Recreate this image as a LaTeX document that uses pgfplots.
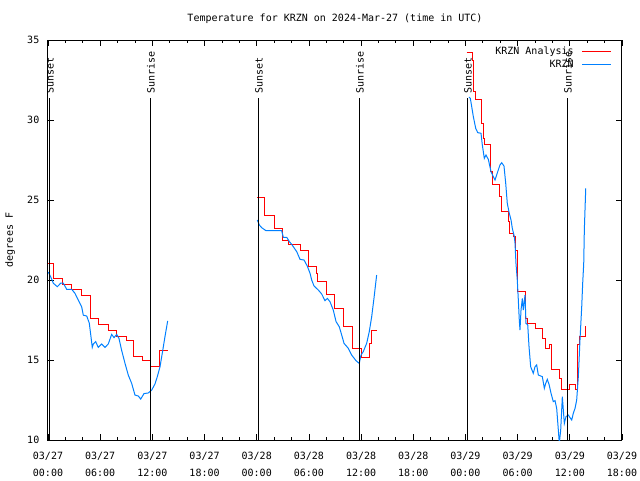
\documentclass[border=0pt]{standalone}
\usepackage{pgfplots}
\pgfplotsset{compat=1.18}
\usepackage{fontspec}
\setmainfont{DejaVu Sans Mono}
\definecolor{obsblue}{RGB}{0,128,255}
\definecolor{anred}{RGB}{255,0,0}
\begin{document}
\begin{tikzpicture}
\path[use as bounding box] (-36pt,-30pt) rectangle (444pt,330pt);
\begin{axis}[
  scale only axis, width=430.5pt, height=300pt,
  xmin=0, xmax=66, ymin=10, ymax=35,
  xtick={0,6,...,66}, minor x tick num=2,
  xticklabels={{03/27\\00:00},{03/27\\06:00},{03/27\\12:00},{03/27\\18:00},{03/28\\00:00},{03/28\\06:00},{03/28\\12:00},{03/28\\18:00},{03/29\\00:00},{03/29\\06:00},{03/29\\12:00},{03/29\\18:00}},
  ytick={10,15,...,35}, yticklabels={10,15,20,25,30,35},
  tick align=inside, major tick length=4.5pt, minor tick length=2.25pt,
  tick style={black, line width=0.6pt},
  axis line style={line width=0.75pt},
  font=\fontsize{7.5}{12.75}\selectfont,
  xticklabel style={align=center, font=\fontsize{7.5}{12.75}\selectfont, yshift=-5.5pt},
  yticklabel style={font=\fontsize{7.5}{9}\selectfont, xshift=-3pt},
  every axis title shift=0pt,
  title={Temperature for KRZN on 2024-Mar-27 (time in UTC)},
  title style={at={(axis description cs:0.5,1.0525)}, anchor=center, font=\fontsize{7.5}{9}\selectfont},
  ylabel={degrees F},
  every axis y label/.style={at={(axis description cs:-0.066,0.5)}, rotate=90, anchor=center, font=\fontsize{7.5}{9}\selectfont},
  legend style={at={(axis description cs:0.983,0.99)}, anchor=north east, draw=none, fill=none,
    legend cell align=right, row sep=-1.5pt, inner sep=0pt, font=\fontsize{7.5}{9}\selectfont},
  legend plot pos=right,
  legend image code/.code={\path (0pt,0pt); \draw[#1] (4pt,0pt) -- (26pt,0pt);},
  every axis plot/.append style={line width=0.75pt},
]
% Analysis (red, stepped)
\addplot[anred, const plot] coordinates {
(0.0,21.04) (0.69,20.1) (1.69,19.69) (2.72,19.42) (3.87,19.06) (4.83,17.6) (5.86,17.19) (6.94,16.83) (7.9,16.46) (8.97,16.2) (9.81,15.25) (10.9,15.0) (11.84,14.58) (12.8,15.6) (13.76,15.6)
};
\addlegendentry{KRZN Analysis}
% Observations (blue)
\addplot[obsblue] coordinates {
(0.03,20.5) (0.31,20.2) (0.61,19.8) (1.07,19.58) (1.46,19.8) (1.76,19.8) (2.15,19.42) (2.72,19.42) (3.10,19.17) (3.48,18.75) (3.87,18.33) (4.06,17.8) (4.45,17.75) (4.75,17.3) (4.94,16.46) (5.09,15.79) (5.21,16.0) (5.48,16.15) (5.78,15.79) (6.17,16.0) (6.55,15.79) (6.93,16.0) (7.32,16.6) (7.59,16.4) (7.90,16.6) (8.16,16.35) (8.47,15.6) (8.85,14.8) (9.23,14.06) (9.62,13.54) (10.0,12.81) (10.38,12.75) (10.66,12.56) (11.04,12.9) (11.53,12.94) (11.92,13.12) (12.30,13.5) (12.57,13.96) (12.88,14.58) (13.14,15.42) (13.45,16.46) (13.76,17.44)
};
\addlegendentry{KRZN}
\addplot[anred, const plot, forget plot] coordinates {
(24.07,25.17) (24.9,24.06) (26.0,23.19) (26.94,22.48) (27.63,22.19) (28.98,21.875) (30.0,20.875) (30.85,20.42) (31.0,19.9) (32.04,19.1) (33.0,18.19) (33.96,17.08) (34.99,15.73) (35.99,15.17) (36.91,16.04) (37.14,16.875) (37.79,16.875)
};
\addplot[obsblue, forget plot] coordinates {
(24.07,23.75) (24.30,23.44) (24.57,23.27) (25.07,23.08) (26.87,23.08) (27.06,22.67) (27.45,22.67) (27.75,22.4) (28.02,22.23) (28.60,21.77) (28.98,21.29) (29.44,21.25) (29.81,20.875) (30.13,20.42) (30.32,20.0) (30.59,19.625) (31.08,19.375) (31.47,19.125) (31.85,18.71) (32.12,18.85) (32.42,18.65) (32.80,18.125) (33.12,17.4) (33.49,17.08) (33.77,16.56) (34.04,16.04) (34.53,15.73) (34.92,15.31) (35.41,14.96) (35.79,14.79) (35.99,15.31) (36.25,15.52) (36.64,16.04) (36.94,16.77) (37.22,17.71) (37.48,18.85) (37.79,20.31)
};
\addplot[anred, const plot, forget plot] coordinates {
(48.14,34.21) (48.79,33.75) (48.91,31.77) (49.18,31.29) (49.87,29.79) (50.05,28.85) (50.17,28.44) (50.9,26.77) (51.09,25.98) (51.86,25.21) (52.09,24.27) (52.93,23.65) (53.12,22.92) (53.5,22.71) (53.7,21.875) (54.0,19.27) (54.85,17.6) (55.11,17.29) (56.0,16.94) (56.84,16.35) (57.15,15.73) (57.72,15.94) (57.91,14.42) (58.87,13.85) (59.06,13.17) (60.0,13.44) (60.6,13.17) (60.9,15.94) (61.17,16.46) (61.75,17.08) (61.85,17.08)
};
\addplot[obsblue, forget plot] coordinates {
(48.41,31.44) (48.56,31.35) (48.72,30.83) (48.91,30.2) (49.18,29.48) (49.41,29.21) (49.79,29.17) (49.94,28.44) (50.17,27.6) (50.36,27.81) (50.63,27.54) (50.94,26.77) (51.2,26.46) (51.4,26.25) (51.71,26.77) (51.97,27.19) (52.17,27.33) (52.43,27.125) (52.63,26.04) (52.81,24.79) (53.04,24.17) (53.24,23.75) (53.39,23.23) (53.62,22.71) (53.7,22.29) (53.81,21.04) (53.96,20.0) (54.08,18.75) (54.19,17.5) (54.27,16.875) (54.39,18.125) (54.54,18.85) (54.65,18.125) (54.85,19.06) (54.96,17.29) (55.16,17.2) (55.31,15.83) (55.5,14.58) (55.8,14.17) (56.0,14.58) (56.19,14.69) (56.38,14.06) (56.84,13.96) (57.07,13.23) (57.23,13.54) (57.41,13.79) (57.61,13.48) (57.84,12.92) (58.1,12.4) (58.3,12.46) (58.49,11.98) (58.68,10.625) (58.79,9.8) (58.95,10.6) (59.14,12.71) (59.37,11.04) (59.56,11.46) (59.83,11.56) (60.02,11.4) (60.22,11.25) (60.4,11.67) (60.6,11.98) (60.79,12.5) (60.98,13.96) (61.17,16.25) (61.37,18.33) (61.48,19.8) (61.6,21.04) (61.67,23.125) (61.83,25.73)
};
% Sunset / sunrise markers
\addplot[black, forget plot] coordinates {(0.23,10) (0.23,31.4)};
\addplot[black, forget plot] coordinates {(11.84,10) (11.84,31.4)};
\addplot[black, forget plot] coordinates {(24.26,10) (24.26,31.4)};
\addplot[black, forget plot] coordinates {(35.87,10) (35.87,31.4)};
\addplot[black, forget plot] coordinates {(48.29,10) (48.29,31.4)};
\addplot[black, forget plot] coordinates {(59.79,10) (59.79,31.4)};
\node[rotate=90, anchor=west, inner sep=1pt, font=\fontsize{7.5}{9}\selectfont] at (axis cs:0.23,31.56) {Sunset};
\node[rotate=90, anchor=west, inner sep=1pt, font=\fontsize{7.5}{9}\selectfont] at (axis cs:11.84,31.56) {Sunrise};
\node[rotate=90, anchor=west, inner sep=1pt, font=\fontsize{7.5}{9}\selectfont] at (axis cs:24.26,31.56) {Sunset};
\node[rotate=90, anchor=west, inner sep=1pt, font=\fontsize{7.5}{9}\selectfont] at (axis cs:35.87,31.56) {Sunrise};
\node[rotate=90, anchor=west, inner sep=1pt, font=\fontsize{7.5}{9}\selectfont] at (axis cs:48.29,31.56) {Sunset};
\node[rotate=90, anchor=west, inner sep=1pt, font=\fontsize{7.5}{9}\selectfont] at (axis cs:59.79,31.56) {Sunrise};
\end{axis}
\end{tikzpicture}
\end{document}
